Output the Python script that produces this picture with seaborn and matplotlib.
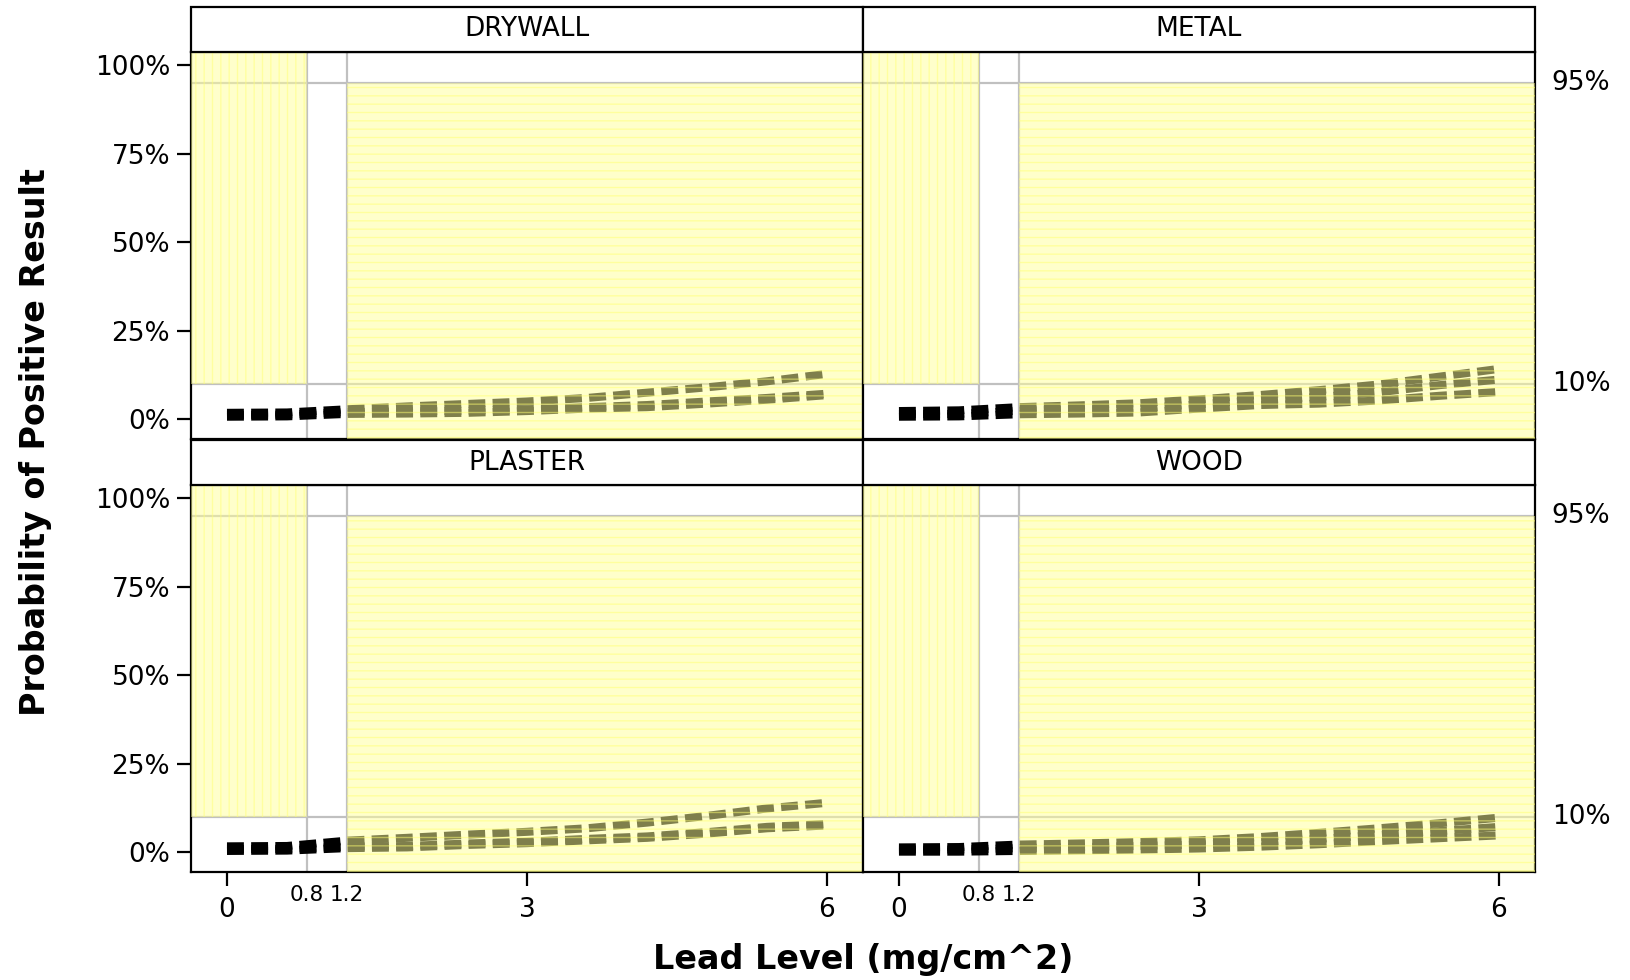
import numpy as np
import pandas as pd
import seaborn as sns
import matplotlib.pyplot as plt
import matplotlib.transforms as mtransforms
from matplotlib.patches import Rectangle
from matplotlib.ticker import PercentFormatter

# surfaces (facets) and lead levels the curves were read at
surfaces = ["DRYWALL", "METAL", "PLASTER", "WOOD"]
lead = [0.0, 0.6, 1.2, 1.8, 2.4, 3.0, 3.6, 4.2, 4.8, 5.4, 6.0]

# probability of positive result (%), upper / fitted / lower curve
drywall_upper = [1.8, 1.9, 2.8, 3.6, 4.3, 5.0, 6.0, 7.5, 9.0, 10.7, 12.8]
drywall_center = [1.2, 1.3, 2.0, 2.2, 2.4, 2.8, 3.4, 4.0, 5.0, 6.0, 7.2]
drywall_lower = [0.7, 0.8, 1.5, 1.6, 1.8, 2.3, 3.0, 3.4, 4.4, 5.5, 6.8]

metal_upper = [2.3, 2.5, 3.4, 3.9, 4.5, 5.6, 6.8, 8.2, 9.8, 12.0, 14.2]
metal_center = [1.4, 1.5, 2.4, 2.7, 3.1, 4.2, 5.4, 6.3, 7.6, 9.6, 11.2]
metal_lower = [0.7, 0.8, 1.4, 1.6, 1.9, 3.0, 4.0, 4.4, 5.3, 6.6, 7.7]

plaster_upper = [1.7, 1.8, 3.3, 4.1, 5.0, 5.8, 6.8, 8.4, 10.3, 12.4, 14.0]
plaster_center = [0.9, 1.0, 1.6, 1.8, 2.5, 3.0, 3.8, 4.5, 5.7, 7.2, 8.0]
plaster_lower = [0.4, 0.5, 1.2, 1.4, 2.1, 2.6, 3.4, 4.1, 5.3, 6.8, 7.6]

wood_upper = [1.4, 1.5, 2.2, 2.5, 2.9, 3.4, 4.3, 5.5, 6.8, 8.2, 9.8]
wood_center = [0.8, 0.8, 1.2, 1.5, 1.8, 2.2, 2.9, 3.8, 4.9, 6.0, 7.2]
wood_lower = [0.2, 0.2, 0.4, 0.6, 0.8, 1.1, 1.6, 2.3, 3.2, 4.0, 4.8]

# reference lines
lead_cut = [0.8, 1.2]
prob_cut = [10, 95]
prob_ticks = [0, 25, 50, 75, 100]
lead_ticks = [0, 3, 6]

curves = {
    "DRYWALL": [drywall_upper, drywall_center, drywall_lower],
    "METAL": [metal_upper, metal_center, metal_lower],
    "PLASTER": [plaster_upper, plaster_center, plaster_lower],
    "WOOD": [wood_upper, wood_center, wood_lower],
}

rows = []
for s in surfaces:
    for bname, vals in zip(["upper", "center", "lower"], curves[s]):
        for x, y in zip(lead, vals):
            rows.append((s, bname, x, y))
df = pd.DataFrame(rows, columns=["surface", "bound", "lead", "prob"])

sns.set_theme(style="white")
plt.rcParams["font.family"] = ["DejaVu Sans"]
plt.rcParams["hatch.linewidth"] = 1.0
plt.rcParams["text.color"] = "black"
plt.rcParams["xtick.color"] = "black"
plt.rcParams["ytick.color"] = "black"

xlim = (-0.36, 6.36)
ylim = (-5.6, 103.7)

g = sns.FacetGrid(df, col="surface", col_wrap=2, col_order=surfaces,
                  sharex=True, sharey=True, despine=False, height=4, aspect=1.6)
g.set_titles(template="")
g.set_axis_labels("", "")

strip_h = 45 / 387

for i, (name, ax) in enumerate(g.axes_dict.items()):
    sub = df[df.surface == name]
    ax.set_xlim(xlim)
    ax.set_ylim(ylim)

    for xc in lead_cut:
        ax.axvline(xc, color="#c0c0c0", lw=1.6, zorder=1.5)
    for yc in prob_cut:
        ax.axhline(yc, color="#c0c0c0", lw=1.6, zorder=1.5)

    sns.lineplot(data=sub, x="lead", y="prob", units="bound", estimator=None,
                 color="black", lw=5.8, linestyle=(0, (2.1, 0.9)),
                 legend=False, ax=ax, zorder=2.2)
    ax.set_xlabel("")
    ax.set_ylabel("")

    # yellow zones (drawn over the curves, which turns them olive)
    ax.add_patch(Rectangle((xlim[0], prob_cut[0]), lead_cut[0] - xlim[0],
                           ylim[1] - prob_cut[0], facecolor="#ffff99",
                           edgecolor="#ffff75", hatch="||", lw=0,
                           alpha=0.5, zorder=3))
    ax.add_patch(Rectangle((lead_cut[1], ylim[0]), xlim[1] - lead_cut[1],
                           prob_cut[1] - ylim[0], facecolor="#ffff99",
                           edgecolor="#ffff70", hatch="--", lw=0,
                           alpha=0.5, zorder=3))

    for sp in ax.spines.values():
        sp.set_color("black")
        sp.set_linewidth(1.6)

    # strip header
    ax.add_patch(Rectangle((0, 1), 1, strip_h, transform=ax.transAxes,
                           facecolor="white", edgecolor="black", lw=1.6,
                           clip_on=False, zorder=5))
    ax.text(0.5, 1 + strip_h / 2, name, transform=ax.transAxes,
            ha="center", va="center", fontsize=19, zorder=6)

    ax.set_yticks(prob_ticks)
    ax.yaxis.set_major_formatter(PercentFormatter(100, decimals=0))
    ax.set_xticks(lead_ticks)
    ax.set_xticks(lead_cut, minor=True)
    ax.set_xticklabels([str(v) for v in lead_ticks])
    ax.set_xticklabels(["0.8", "1.2"], minor=True)

    ax.tick_params(axis="both", which="major", direction="out", length=10,
                   width=1.6, color="black", labelsize=19, labelcolor="black")
    ax.tick_params(axis="x", which="major", pad=8)
    ax.tick_params(axis="y", which="major", pad=5)
    ax.tick_params(axis="x", which="minor", length=0, labelsize=15.5, pad=9,
                   labelcolor="black")

    col = i % 2
    row = i // 2
    if col == 1:
        ax.tick_params(axis="y", left=False, labelleft=False)
        tr = mtransforms.blended_transform_factory(ax.transAxes, ax.transData)
        for yc in prob_cut:
            ax.text(1.025, yc, f"{yc}%", transform=tr, ha="left",
                    va="center", fontsize=19)
    else:
        ax.tick_params(axis="y", left=True, labelleft=True)
    if row == 0:
        ax.tick_params(axis="x", which="both", bottom=False, labelbottom=False)
    else:
        ax.tick_params(axis="x", which="both", bottom=True, labelbottom=True)
        ax.tick_params(axis="x", which="minor", length=0)

fig = g.figure
fig.set_size_inches(16.31, 9.8)
fig.subplots_adjust(left=0.1171, right=0.9411, bottom=0.110, top=0.947,
                    wspace=0, hspace=0.119)

fig.text(0.529, 0.0214, "Lead Level (mg/cm^2)", ha="center", va="center",
         fontsize=24, fontweight="bold")
fig.text(0.022, 0.549, "Probability of Positive Result", ha="center",
         va="center", rotation=90, fontsize=24, fontweight="bold")

fig.savefig("out.png", dpi=100)
